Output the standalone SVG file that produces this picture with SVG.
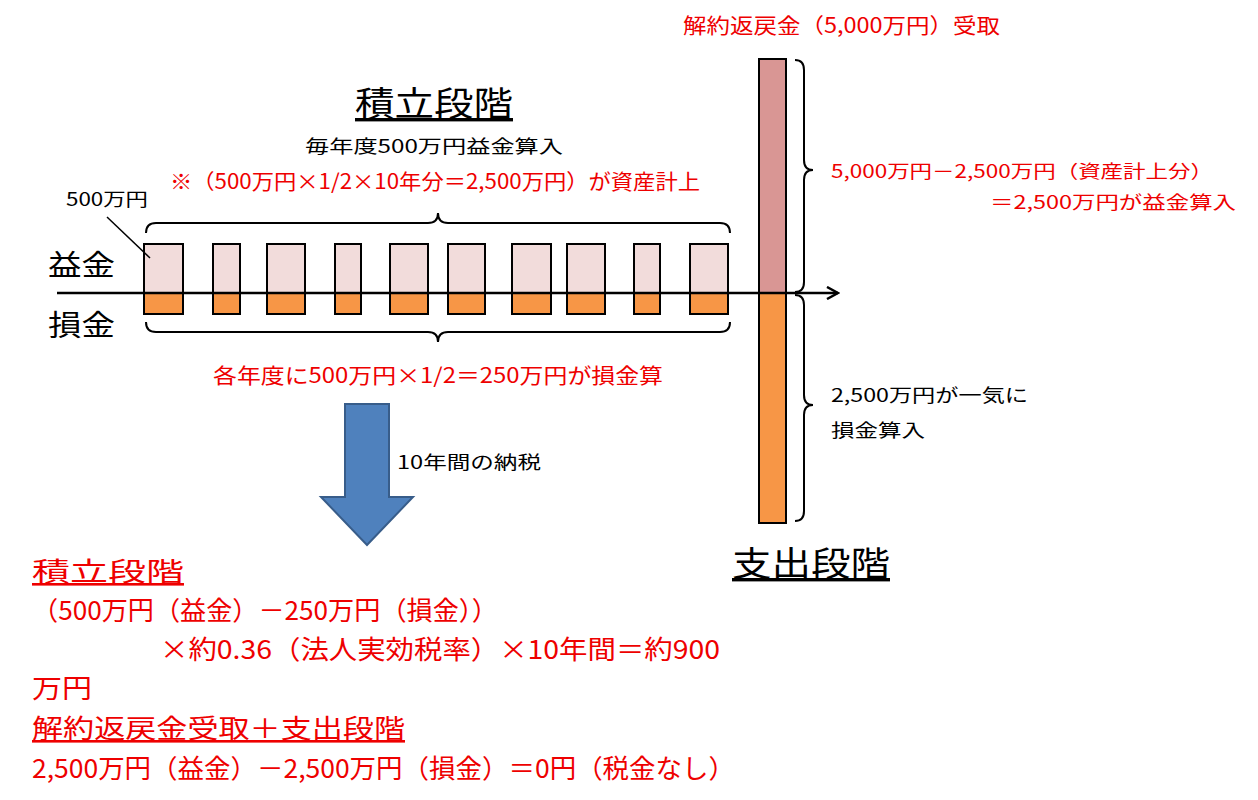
<svg xmlns="http://www.w3.org/2000/svg" width="1258" height="800" viewBox="0 0 1258 800">
<style>
text{font-family:"Noto Sans CJK JP","Noto Sans CJK SC",sans-serif}
.r{fill:#e00}
.k{fill:#000}
.p{fill:#F2DCDB;stroke:#000;stroke-width:2}
.o{fill:#F79646;stroke:#000;stroke-width:2}
.br{fill:none;stroke:#000;stroke-width:2}
.s{font-size:18px}
.m{font-size:26px}
.b{font-size:34px}
</style>
<defs><marker id="ah" markerWidth="14" markerHeight="14" refX="12" refY="7" orient="auto" markerUnits="userSpaceOnUse"><path d="M1,1 L12,7 L1,13" fill="none" stroke="#000" stroke-width="2.5"/></marker></defs>
<rect width="1258" height="800" fill="#fff"/>
<g id="bars">
<rect class="p" x="144" y="244" width="39" height="49"/><rect class="o" x="144" y="293" width="39" height="21"/>
<rect class="p" x="213" y="244" width="27" height="49"/><rect class="o" x="213" y="293" width="27" height="21"/>
<rect class="p" x="267" y="244" width="38" height="49"/><rect class="o" x="267" y="293" width="38" height="21"/>
<rect class="p" x="335" y="244" width="26" height="49"/><rect class="o" x="335" y="293" width="26" height="21"/>
<rect class="p" x="390" y="244" width="38" height="49"/><rect class="o" x="390" y="293" width="38" height="21"/>
<rect class="p" x="448" y="244" width="37" height="49"/><rect class="o" x="448" y="293" width="37" height="21"/>
<rect class="p" x="512" y="244" width="39" height="49"/><rect class="o" x="512" y="293" width="39" height="21"/>
<rect class="p" x="567" y="244" width="38" height="49"/><rect class="o" x="567" y="293" width="38" height="21"/>
<rect class="p" x="634" y="244" width="26" height="49"/><rect class="o" x="634" y="293" width="26" height="21"/>
<rect class="p" x="690" y="244" width="38" height="49"/><rect class="o" x="690" y="293" width="38" height="21"/>
</g>
<g id="bigbar">
<rect x="759" y="59" width="27" height="234" fill="#D99694" stroke="#000" stroke-width="2"/>
<rect class="o" x="759" y="293" width="27" height="230"/>
</g>
<g id="connectors">
<line x1="57" y1="293" x2="838" y2="293" stroke="#000" stroke-width="2.5" marker-end="url(#ah)"/>
<line x1="107" y1="217" x2="150" y2="258" stroke="#000" stroke-width="1.5"/>
<path class="br" d="M146,233 Q146,223 156,223 L428,223 Q438,223 438,213 Q438,223 448,223 L720,223 Q730,223 730,233"/>
<path class="br" d="M146,322 Q146,332 156,332 L428,332 Q438,332 438,342 Q438,332 448,332 L720,332 Q730,332 730,322"/>
<path class="br" d="M795,60 Q804,60 804,70 L804,160 Q804,170 813,170 Q804,170 804,180 L804,282 Q804,292 795,292"/>
<path class="br" d="M795,295 Q804,295 804,305 L804,395 Q804,405 813,405 Q804,405 804,415 L804,511 Q804,521 795,521"/>
<path d="M345,404 L389,404 L389,497 L413,497 L367,545 L321,497 L345,497 Z" fill="#4F81BD" stroke="#385D8A" stroke-width="2"/>
</g>
<g id="labels">
<text class="r" x="683" y="33" style="font-size:21px" textLength="317" lengthAdjust="spacingAndGlyphs">解約返戻金（5,000万円）受取</text>
<text class="b k" x="355" y="116" text-decoration="underline" textLength="158" lengthAdjust="spacingAndGlyphs">積立段階</text>
<text class="s k" x="305" y="153" textLength="258" lengthAdjust="spacingAndGlyphs">毎年度500万円益金算入</text>
<text class="r" x="170" y="189" style="font-size:21px" textLength="530" lengthAdjust="spacingAndGlyphs">※（500万円×1/2×10年分＝2,500万円）が資産計上</text>
<text class="s k" x="66" y="206" textLength="82" lengthAdjust="spacingAndGlyphs">500万円</text>
<text class="k" x="48" y="276" style="font-size:29px" textLength="67" lengthAdjust="spacingAndGlyphs">益金</text>
<text class="k" x="48" y="336" style="font-size:29px" textLength="67" lengthAdjust="spacingAndGlyphs">損金</text>
<text class="r" x="213" y="383" style="font-size:21px" textLength="450" lengthAdjust="spacingAndGlyphs">各年度に500万円×1/2＝250万円が損金算</text>
<text class="s k" x="397" y="469" textLength="144" lengthAdjust="spacingAndGlyphs">10年間の納税</text>
<text class="s r" x="831" y="178" textLength="382" lengthAdjust="spacingAndGlyphs">5,000万円－2,500万円（資産計上分）</text>
<text class="s r" x="990" y="209" textLength="246" lengthAdjust="spacingAndGlyphs">＝2,500万円が益金算入</text>
<text class="s k" x="831" y="402" textLength="197" lengthAdjust="spacingAndGlyphs">2,500万円が一気に</text>
<text class="s k" x="831" y="437" textLength="94" lengthAdjust="spacingAndGlyphs">損金算入</text>
<text class="b k" x="732" y="576" text-decoration="underline" textLength="158" lengthAdjust="spacingAndGlyphs">支出段階</text>
<text class="m r" x="32" y="581" text-decoration="underline" textLength="152" lengthAdjust="spacingAndGlyphs">積立段階</text>
<text class="m r" x="32" y="620" textLength="466" lengthAdjust="spacingAndGlyphs">（500万円（益金）－250万円（損金））</text>
<text class="m r" x="160" y="659" textLength="560" lengthAdjust="spacingAndGlyphs">×約0.36（法人実効税率）×10年間＝約900</text>
<text class="m r" x="32" y="698" textLength="60" lengthAdjust="spacingAndGlyphs">万円</text>
<text class="m r" x="32" y="738" text-decoration="underline" textLength="373" lengthAdjust="spacingAndGlyphs">解約返戻金受取＋支出段階</text>
<text class="m r" x="32" y="778" textLength="703" lengthAdjust="spacingAndGlyphs">2,500万円（益金）－2,500万円（損金）＝0円（税金なし）</text>
</g>
</svg>
